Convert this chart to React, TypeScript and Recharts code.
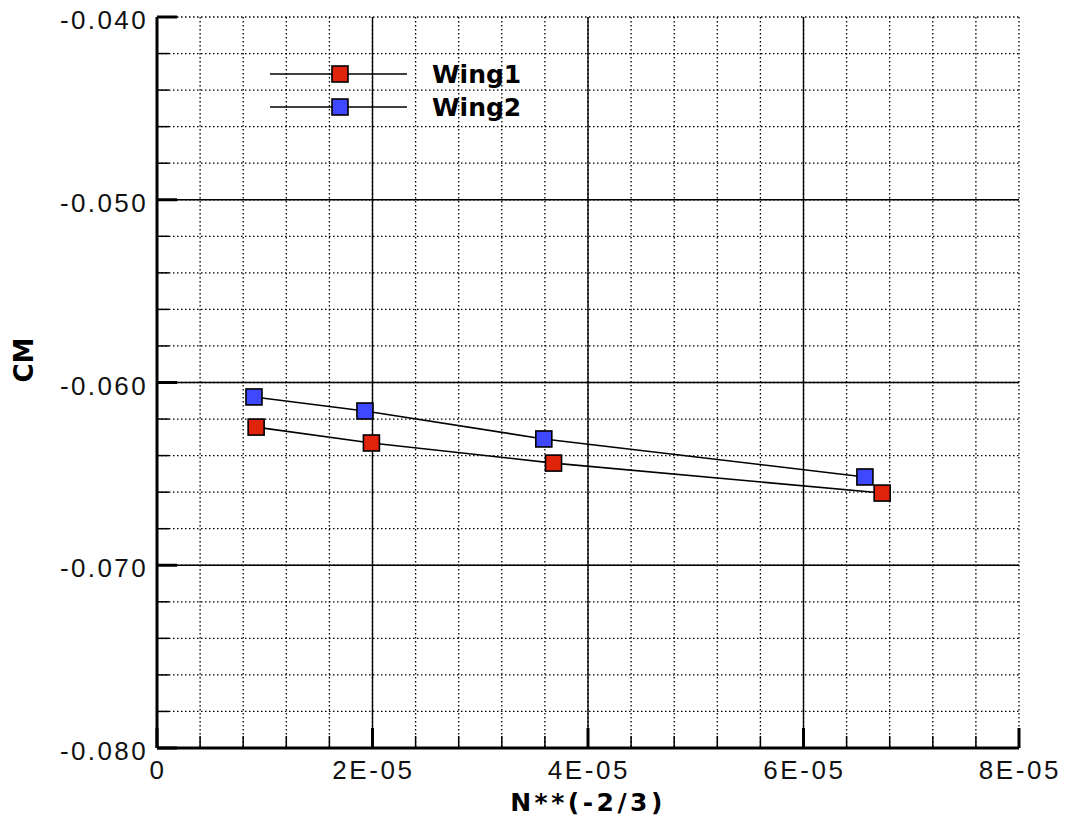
import React from 'react';
import { LineChart, Line, XAxis, YAxis, CartesianGrid, ReferenceLine, Legend } from 'recharts';

const seriesNames = ['Wing1', 'Wing2'];
const seriesFills = ['#e0230b', '#4048ff'];

const wing1X = [0.0000092, 0.0000199, 0.0000368, 0.0000673];
const wing1Y = [-0.06244, -0.06331, -0.06441, -0.06605];
const wing2X = [0.0000090, 0.0000193, 0.0000359, 0.0000657];
const wing2Y = [-0.06079, -0.06156, -0.06309, -0.06517];

const xTicks = [0, 0.000004, 0.000008, 0.000012, 0.000016, 0.00002, 0.000024, 0.000028, 0.000032, 0.000036, 0.00004,
  0.000044, 0.000048, 0.000052, 0.000056, 0.00006, 0.000064, 0.000068, 0.000072, 0.000076, 0.00008];
const xMajor = [0, 0.00002, 0.00004, 0.00006, 0.00008];
const xMajorLabels = ['0', '2E-05', '4E-05', '6E-05', '8E-05'];

const yTicks = [-0.08, -0.078, -0.076, -0.074, -0.072, -0.07, -0.068, -0.066, -0.064, -0.062, -0.06,
  -0.058, -0.056, -0.054, -0.052, -0.05, -0.048, -0.046, -0.044, -0.042, -0.04];
const yMajor = [-0.08, -0.07, -0.06, -0.05, -0.04];
const yMajorLabels = ['-0.080', '-0.070', '-0.060', '-0.050', '-0.040'];

const xLabel = 'N**(-2/3)';
const yLabel = 'CM';

const wing1Data = wing1X.map((x, i) => ({ x, y: wing1Y[i] }));
const wing2Data = wing2X.map((x, i) => ({ x, y: wing2Y[i] }));

const tickFont = '"Liberation Sans", Arial, sans-serif';
const titleFont = '"DejaVu Sans", sans-serif';

const findMajor = (arr: number[], v: number) => arr.findIndex((m) => Math.abs(m - v) < 1e-10);

const YTick = (props: any) => {
  const { x, y, payload } = props;
  const idx = findMajor(yMajor, payload.value);
  const major = idx >= 0;
  const ax = x + 11;
  return (
    <g>
      <line x1={ax} x2={ax + (major ? 20 : 12)} y1={y} y2={y} stroke="#000" strokeWidth={major ? 3 : 1.5} />
      {major && (
        <text x={x + 2} y={y + 12} textAnchor="end" fontFamily={tickFont} fontSize={26} letterSpacing={2.4} fill="#111">
          {yMajorLabels[idx]}
        </text>
      )}
    </g>
  );
};

const XTick = (props: any) => {
  const { x, y, payload } = props;
  const idx = findMajor(xMajor, payload.value);
  const major = idx >= 0;
  return (
    <g>
      <line x1={x} x2={x} y1={y} y2={y - (major ? 20 : 12)} stroke="#000" strokeWidth={major ? 3 : 1.5} />
      {major && (
        <text x={x + 1} y={y + 31} textAnchor="middle" fontFamily={tickFont} fontSize={26} letterSpacing={2.6} fill="#111">
          {xMajorLabels[idx]}
        </text>
      )}
    </g>
  );
};

const makeDot = (fill: string) => (props: any) => {
  const { cx, cy, index } = props;
  return (
    <rect key={`dot-${fill}-${index}`} x={cx - 8} y={cy - 8} width={16} height={16} fill={fill} stroke="#000" strokeWidth={1.6} />
  );
};

const renderLegend = (props: any) => {
  const payload = props.payload || [];
  return (
    <svg width={320} height={70} style={{ display: 'block' }}>
      {payload.map((entry: any, i: number) => {
        const idx = seriesNames.indexOf(entry.value);
        const cy = 18 + i * 33;
        return (
          <g key={`leg-${i}`}>
            <line x1={0} x2={137} y1={cy} y2={cy} stroke="#000" strokeWidth={1.6} />
            <rect x={62} y={cy - 8} width={16} height={16} fill={seriesFills[idx]} stroke="#000" strokeWidth={1.6} />
            <text x={162} y={cy + 9} fontFamily={titleFont} fontWeight="bold" fontSize={25} fill="#000">
              {entry.value}
            </text>
          </g>
        );
      })}
    </svg>
  );
};

export default function App() {
  return (
    <div style={{ position: 'absolute', left: 0, top: 0, width: 1065, height: 820, background: '#fff', fontFamily: tickFont }}>
      <LineChart width={1065} height={820} margin={{ top: 17, right: 46, bottom: 0, left: 0 }}>
        <CartesianGrid stroke="#000" strokeWidth={1.3} strokeDasharray="1.5 2.5" />
        <XAxis
          type="number"
          dataKey="x"
          domain={[0, 0.00008]}
          ticks={xTicks}
          interval={0}
          allowDataOverflow
          height={72}
          tickSize={0}
          tickMargin={0}
          tick={<XTick />}
          tickLine={false}
          axisLine={{ stroke: '#000', strokeWidth: 3 }}
          label={{ value: xLabel, position: 'insideBottom', offset: 9, fontFamily: titleFont, fontWeight: 'bold', fontSize: 25, fill: '#000', letterSpacing: 3.5 }}
        />
        <XAxis
          xAxisId="top"
          orientation="top"
          type="number"
          domain={[0, 0.00008]}
          height={0}
          tick={false}
          tickLine={false}
          axisLine={{ stroke: '#000', strokeWidth: 3 }}
        />
        <YAxis
          type="number"
          domain={[-0.08, -0.04]}
          ticks={yTicks}
          interval={0}
          allowDataOverflow
          width={157}
          tickSize={0}
          tickMargin={11}
          tick={<YTick />}
          tickLine={false}
          axisLine={{ stroke: '#000', strokeWidth: 3 }}
          label={{ value: yLabel, angle: -90, position: 'insideLeft', offset: 24, fontFamily: titleFont, fontWeight: 'bold', fontSize: 26, fill: '#000' }}
        />
        <YAxis
          yAxisId="right"
          orientation="right"
          type="number"
          domain={[-0.08, -0.04]}
          width={0}
          tick={false}
          tickLine={false}
          axisLine={{ stroke: '#000', strokeWidth: 3 }}
        />
        {xMajor.slice(1, 4).map((v) => (
          <ReferenceLine key={`xv-${v}`} x={v} stroke="#000" strokeWidth={1.4} />
        ))}
        {yMajor.slice(1, 4).map((v) => (
          <ReferenceLine key={`yh-${v}`} y={v} stroke="#000" strokeWidth={1.4} />
        ))}
        <Legend
          layout="vertical"
          align="center"
          verticalAlign="middle"
          content={renderLegend}
          wrapperStyle={{ left: 270, top: 56, width: 320, height: 70 }}
        />
        <Line
          name={seriesNames[0]}
          data={wing1Data}
          dataKey="y"
          stroke="#000"
          strokeWidth={1.6}
          dot={makeDot(seriesFills[0])}
          activeDot={false}
          isAnimationActive={false}
        />
        <Line
          name={seriesNames[1]}
          data={wing2Data}
          dataKey="y"
          stroke="#000"
          strokeWidth={1.6}
          dot={makeDot(seriesFills[1])}
          activeDot={false}
          isAnimationActive={false}
        />
      </LineChart>
    </div>
  );
}
